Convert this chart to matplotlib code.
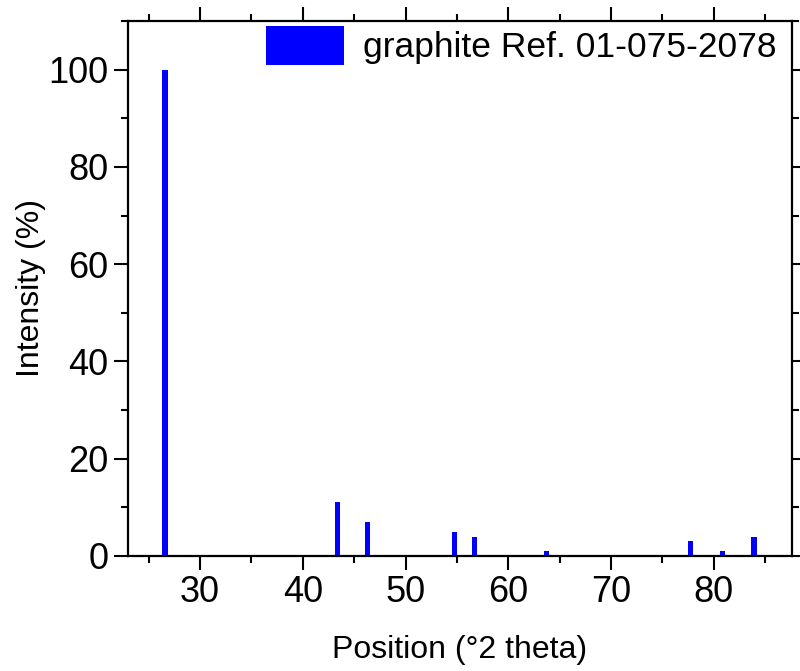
import matplotlib
matplotlib.use("Agg")
import matplotlib.pyplot as plt
from matplotlib.ticker import MultipleLocator

# graphite reference pattern
positions = [26.6, 43.4, 46.3, 54.8, 56.7, 63.7, 77.7, 80.8, 83.9]
intensities = [100, 11, 7, 5, 4, 1, 3, 1, 4]
ref_label = "graphite Ref. 01-075-2078"

plt.rcParams["font.family"] = ["Liberation Sans", "DejaVu Sans"]

fig = plt.figure(figsize=(8, 6.71), dpi=100)
ax = fig.add_axes([0.16, 0.1714, 0.83, 0.7973])

ax.bar(positions, intensities, width=0.5, color="#0000FF", label=ref_label)

ax.set_xlim(23, 87.6)
ax.set_ylim(0, 110)
ax.xaxis.set_major_locator(MultipleLocator(10))
ax.xaxis.set_minor_locator(MultipleLocator(5))
ax.yaxis.set_major_locator(MultipleLocator(20))
ax.yaxis.set_minor_locator(MultipleLocator(10))

ax.tick_params(which="both", direction="out", top=True, right=True,
               labelsize=26, width=1.5)
ax.tick_params(which="major", length=10, pad=4)
ax.tick_params(which="minor", length=5)
for s in ax.spines.values():
    s.set_linewidth(1.6)

ax.set_xlabel("Position (°2 theta)", fontsize=23, labelpad=18)
ax.set_ylabel("Intensity (%)", fontsize=23, labelpad=2)

ax.legend(loc="upper right", bbox_to_anchor=(0.985, 1.0), frameon=False,
          fontsize=25.5, handlelength=2.2, handleheight=1.3,
          handletextpad=0.55, borderpad=0.05, borderaxespad=0.1)

fig.savefig("out.png", dpi=100)
